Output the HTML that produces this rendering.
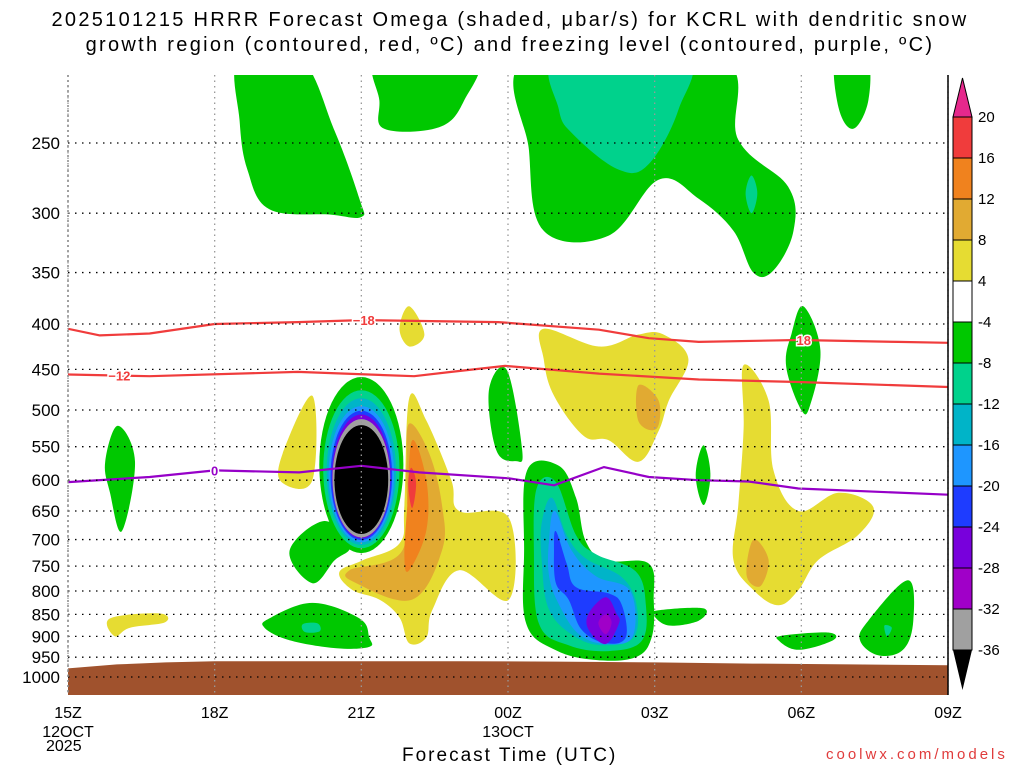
<!DOCTYPE html>
<html><head><meta charset="utf-8"><style>
body{margin:0;background:#fff;width:1024px;height:768px;overflow:hidden;font-family:"Liberation Sans",sans-serif}
</style></head><body>
<svg id="c" width="1024" height="768" xmlns="http://www.w3.org/2000/svg" font-family="Liberation Sans, sans-serif"></svg>
<script>
// ---- data ----
const pressureTicks=[250,300,350,400,450,500,550,600,650,700,750,800,850,900,950,1000];
const timeTicks=[0,3,6,9,12,15,18];
const timeLabels=["15Z","18Z","21Z","00Z","03Z","06Z","09Z"];
const dateLabels=["12OCT","","","13OCT","","",""];
const cbarLevels=[20,16,12,8,4,-4,-8,-12,-16,-20,-24,-28,-32,-36];
const cbarColors=["#f03c3c","#f0821e","#e1aa32","#e6dc32","#ffffff","#00c800","#00d28c","#00b4c8","#1e96ff","#1e3cff","#7800dc","#a000c8","#a0a0a0"];
const lineM18H=[0,0.65,1.67,3,4.7,6,8.8,10.86,11.88,12.9,14.94,16.98,18];
const lineM18P=[405,412,410,400,398,396,398,406,415,419,417,419,420];
const lineM12H=[0,1.67,4.7,7.08,7.84,8.94,10.86,12.9,14.94,18];
const lineM12P=[456,458,453,458,453,446,455,462,465,471];
const freezeH=[0,1.67,3,4.73,6,7.18,9.02,9.94,10.96,11.88,12.9,13.92,14.94,18];
const freezeP=[603,595,585,588,578,588,597,608,580,595,600,602,613,623];
const groundH=[0,1,2,3,4,6,8,10,12,14,16,18];
const groundP=[978,968,963,960,960,960,960,961,963,966,968,970];
// shaded regions: [color, [[hour,hPa],...]]
const regions=[
["#00c800",[[3.5,200],[4.73,200],[5.45,242],[5.96,289],[6.0,303],[5.35,301],[4.12,297],[3.67,268],[3.51,236]]],
["#00c800",[[6.37,200],[8.31,200],[8.1,224],[7.59,240],[6.47,241],[6.37,224]]],
["#00c800",[[9.43,200],[13.31,200],[13.71,248],[14.73,280],[14.84,314],[14.43,348],[14.02,350],[13.61,314],[12.9,289],[12.08,275],[11.06,318],[9.73,314],[9.43,255]]],
["#00d28c",[[10.04,200],[12.59,200],[12.49,229],[11.88,264],[11.27,268],[10.35,245],[10.04,229]]],
["#00d28c",[[13.98,272],[14.1,285],[13.98,300],[13.86,285]]],
["#00c800",[[15.71,200],[16.33,200],[16.37,224],[16.06,241],[15.76,228]]],
["#00c800",[[15.04,382],[15.39,428],[15.18,494],[15.0,500],[14.69,447],[14.8,410]]],
["#e6dc32",[[6.98,382],[7.29,411],[6.98,424],[6.78,405]]],
["#00c800",[[8.98,451],[9.29,555],[9.16,571],[8.76,555],[8.61,475]]],
["#e6dc32",[[9.73,405],[10.86,424],[11.67,411],[12.18,411],[12.69,438],[12.29,488],[12.08,528],[11.67,572],[11.06,541],[10.55,535],[9.94,482],[9.73,438]]],
["#e1aa32",[[11.67,469],[12.08,488],[12.04,525],[11.67,515]]],
["#00c800",[[13.0,548],[13.14,592],[13.0,640],[12.84,592]]],
["#e6dc32",[[13.82,445],[14.33,488],[14.43,585],[14.94,650],[15.76,620],[16.47,643],[16.16,692],[15.35,738],[14.94,798],[14.53,830],[14.02,798],[13.61,738],[13.71,640],[13.82,525]]],
["#e1aa32",[[14.02,700],[14.33,738],[14.16,790],[13.88,768]]],
["#00c800",[[1.02,521],[1.37,572],[1.1,685],[0.86,620],[0.76,572]]],
["#e6dc32",[[5.0,482],[5.0,600],[4.37,603],[4.39,560]]],
["#e6dc32",[[6.98,485],[7.33,514],[7.84,600],[8.0,650],[9.02,662],[9.02,818],[8.0,758],[7.45,841],[7.33,902],[6.98,916],[6.78,857],[6.37,818],[5.82,798],[5.55,762],[6.02,739],[6.78,707],[6.88,640]]],
["#e1aa32",[[6.98,518],[7.39,560],[7.65,640],[7.65,720],[7.04,818],[5.9,784],[5.76,758],[6.84,720],[6.92,585]]],
["#f0821e",[[7.04,541],[7.33,600],[7.33,683],[6.98,758],[6.88,733],[6.94,640]]],
["#f03c3c",[[7.02,581],[7.12,605],[7.04,645],[6.96,608]]],
["#00c800",[[5.24,667],[4.53,721],[5.0,784],[5.45,739],[5.76,712]]],
["#00c800",[[4.12,859],[5.0,825],[5.96,859],[6.16,902],[6.16,925],[5.49,928],[4.53,909],[4.02,880]]],
["#00d28c",[[4.8,872],[5.1,870],[5.15,888],[4.85,890]]],
["#00c800",[[9.39,585],[10.04,578],[10.39,628],[10.59,703],[11.0,739],[11.88,745],[11.98,818],[11.94,902],[11.61,950],[10.8,957],[9.98,933],[9.37,870],[9.33,720]]],
["#00d28c",[[9.59,612],[9.98,603],[10.39,692],[10.8,727],[11.61,760],[11.82,830],[11.73,911],[11.06,935],[10.24,921],[9.63,870],[9.53,720]]],
["#00b4c8",[[9.69,670],[9.9,628],[10.2,692],[10.59,735],[11.33,772],[11.63,830],[11.57,902],[11.0,921],[10.39,902],[9.84,840],[9.69,739]]],
["#1e96ff",[[9.84,700],[9.96,650],[10.3,720],[10.8,770],[11.5,800],[11.55,900],[11.0,918],[10.45,895],[10.05,830],[9.84,770]]],
["#1e3cff",[[9.98,685],[10.2,745],[10.39,792],[11.06,805],[11.33,830],[11.41,902],[11.0,916],[10.51,885],[10.24,818],[9.98,784],[9.94,720]]],
["#7800dc",[[11.0,813],[11.22,848],[11.27,870],[11.0,918],[10.65,885],[10.65,848]]],
["#a000c8",[[11.0,850],[11.12,868],[11.0,895],[10.85,870]]],
["#e6dc32",[[0.86,859],[1.88,848],[1.98,868],[1.27,880],[0.96,900]]],
["#00c800",[[12.08,841],[13.0,837],[12.9,864],[12.29,875],[11.98,852]]],
["#00c800",[[14.63,898],[15.55,891],[15.65,909],[14.94,932],[14.53,909]]],
["#00c800",[[17.18,778],[17.29,864],[17.08,932],[16.57,945],[16.2,909],[16.37,864]]],
["#00d28c",[[16.7,875],[16.85,880],[16.75,900]]]
];
// central core ellipses
const coreColors=["#00c800","#00d28c","#00b4c8","#1e96ff","#1e3cff","#7800dc","#a0a0a0","#000000"];
const coreHalfW=[0.86,0.78,0.71,0.67,0.63,0.6,0.59,0.55];
const coreTop=[459,475,485,495,501,506,512,520];
const coreBot=[725,716,710,705,701,698,696,690];
const coreCenter=6.0;

// ---- axes ----
const X0=68,X1=948,Y0=75,Y1=695;
const xs=h=>X0+h*(X1-X0)/18;
const ys=p=>-1983.9+385.2*Math.log(p);
const NS="http://www.w3.org/2000/svg";
const svg=document.getElementById('c');
function mk(t,a,parent){const e=document.createElementNS(NS,t);for(const k in a)e.setAttribute(k,a[k]);(parent||svg).appendChild(e);return e;}
function smooth(P){const n=P.length;let d='M'+P[0][0].toFixed(1)+','+P[0][1].toFixed(1);
 for(let i=0;i<n;i++){const p0=P[(i-1+n)%n],p1=P[i],p2=P[(i+1)%n],p3=P[(i+2)%n];const t=0.18;
  d+=' C'+(p1[0]+(p2[0]-p0[0])*t).toFixed(1)+','+(p1[1]+(p2[1]-p0[1])*t).toFixed(1)+' '+(p2[0]-(p3[0]-p1[0])*t).toFixed(1)+','+(p2[1]-(p3[1]-p1[1])*t).toFixed(1)+' '+p2[0].toFixed(1)+','+p2[1].toFixed(1);}
 return d+'Z';}
const clip=mk('clipPath',{id:'pc'});mk('rect',{x:X0,y:Y0,width:X1-X0,height:Y1-Y0},clip);
const g=mk('g',{'clip-path':'url(#pc)'});


regions.forEach((r,i)=>{
 const P=r[1].map(d=>[xs(d[0]),ys(d[1])]);
 const el=mk('path',{d:smooth(P),fill:r[0]},g);
 
 
});
coreColors.forEach((c,i)=>{
 const yt=ys(coreTop[i]),yb=ys(coreBot[i]);
 const el=mk('ellipse',{cx:xs(coreCenter),cy:(yt+yb)/2,rx:coreHalfW[i]*(X1-X0)/18,ry:(yb-yt)/2,fill:c},g);
 
 
});
let gp='M'+xs(0)+','+Y1+' '+groundH.map((h,i)=>'L'+xs(h)+','+ys(groundP[i]).toFixed(1)).join(' ')+' L'+xs(18)+','+Y1+'Z';
const gr=mk('path',{d:gp,fill:'#a0522d'},g);


pressureTicks.forEach(p=>{const l=mk('line',{x1:X0,x2:X1,y1:ys(p),y2:ys(p),stroke:'#000','stroke-width':1.3,'stroke-dasharray':'1.5 5.5'});
 
 const t=mk('text',{x:60,y:ys(p)+6,'text-anchor':'end','font-size':17,fill:'#000'});t.textContent=p;
 });
timeTicks.forEach((h,i)=>{const l=mk('line',{x1:xs(h),x2:xs(h),y1:Y0,y2:Y1,stroke:'#999','stroke-width':1.3,'stroke-dasharray':'1.5 4'});
 
 const t=mk('text',{x:xs(h),y:718,'text-anchor':'middle','font-size':16});t.textContent=timeLabels[i];
 
 if(dateLabels[i]){const d=mk('text',{x:xs(h),y:737,'text-anchor':'middle','font-size':16});d.textContent=dateLabels[i];
 }});
function line(H,P,col,name,lab,labH){
 const d=H.map((h,i)=>(i?'L':'M')+xs(h).toFixed(1)+','+ys(P[i]).toFixed(1)).join(' ');
 const el=mk('path',{d:d,fill:'none',stroke:col,'stroke-width':2.2,'stroke-linejoin':'round'},g);
 
 labH.forEach((lh,k)=>{let j=0;while(j<H.length-2&&H[j+1]<lh)j++;
  const p=P[j]+(P[j+1]-P[j])*(lh-H[j])/(H[j+1]-H[j]);
  const t=mk('text',{x:xs(lh),y:ys(p)+5,'text-anchor':'middle','font-size':13,'font-weight':'bold',fill:col,stroke:'#fff','stroke-width':3,'paint-order':'stroke'});t.textContent=lab[k];
  });
}
line(lineM18H,lineM18P,'#f03c3c','line-minus18',['−18','18'],[6.05,15.05]);
line(lineM12H,lineM12P,'#f03c3c','line-minus12',['−12'],[1.05]);
line(freezeH,freezeP,'#9600c8','freezing-level',['0'],[3.0]);
mk('line',{x1:X0,x2:X0,y1:Y0,y2:Y1,stroke:'#888','stroke-width':1.5,'stroke-dasharray':'2 3'});
mk('line',{x1:X1,x2:X1,y1:Y0,y2:Y1,stroke:'#000','stroke-width':1.5});
const cbx=953,cbw=19,cbTop=117,cbStep=41;
const tri=mk('polygon',{points:`${cbx},${cbTop} ${cbx+cbw},${cbTop} ${cbx+cbw/2},78`,fill:'#e6288c',stroke:'#000'});

cbarColors.forEach((c,i)=>{const r=mk('rect',{x:cbx,y:cbTop+i*cbStep,width:cbw,height:cbStep,fill:c,stroke:'#000','stroke-width':1});
 });
const bt=cbTop+cbarColors.length*cbStep;
const tri2=mk('polygon',{points:`${cbx},${bt} ${cbx+cbw},${bt} ${cbx+cbw/2},${bt+40}`,fill:'#000'});

cbarLevels.forEach((v,i)=>{const t=mk('text',{x:978,y:cbTop+i*cbStep+5,'font-size':15});t.textContent=v<0?'-'+(-v):v;
 });
</script>
<div style="position:absolute;left:0;top:8px;width:1020px;text-align:center;font-size:20px;line-height:25px;letter-spacing:2.3px">2025101215 HRRR Forecast Omega (shaded, μbar/s) for KCRL with dendritic snow<br>growth region (contoured, red, ºC) and freezing level (contoured, purple, ºC)</div>
<div style="position:absolute;left:46px;top:738px;font-size:16px">2025</div>
<div style="position:absolute;left:402px;top:745px;font-size:19px;letter-spacing:2px">Forecast Time (UTC)</div>
<div style="position:absolute;left:826px;top:746px;font-size:15px;color:#e03c3c;letter-spacing:3px">coolwx.com/models</div>
</body></html>
